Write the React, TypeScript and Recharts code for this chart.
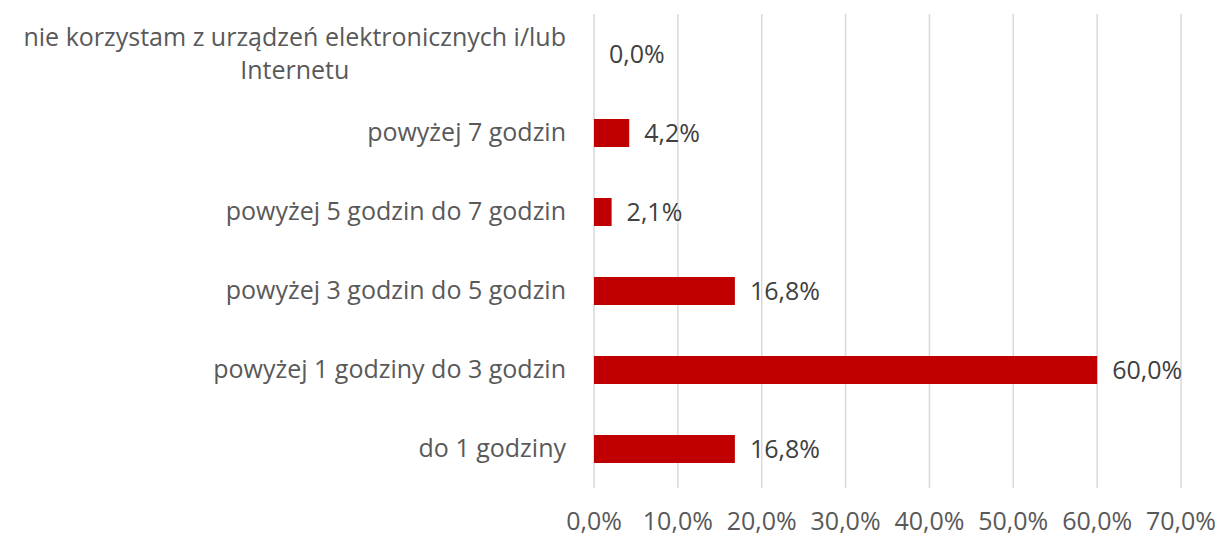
import React from 'react';
import { BarChart, Bar, XAxis, YAxis, CartesianGrid, LabelList } from 'recharts';

const categories = [
    'nie korzystam z urządzeń elektronicznych i/lub\nInternetu',
    'powyżej 7 godzin',
    'powyżej 5 godzin do 7 godzin',
    'powyżej 3 godzin do 5 godzin',
    'powyżej 1 godziny do 3 godzin',
    'do 1 godziny',
];
const shares = [0.0, 4.2, 2.1, 16.8, 60.0, 16.8];
const xTicks = [0, 10, 20, 30, 40, 50, 60, 70];

const data = categories.map((name, i) => ({ name, value: shares[i] }));

const FONT = '"Open Sans", sans-serif';
const FONT_SIZE = 25;
const fmt = (v: number) => `${v.toFixed(1).replace('.', ',')}%`;

let ctx: CanvasRenderingContext2D | null = null;
const measure = (s: string) => {
    if (!ctx) ctx = document.createElement('canvas').getContext('2d');
    if (!ctx) return s.length * 12;
    ctx.font = `${FONT_SIZE}px ${FONT}`;
    return ctx.measureText(s).width;
};

// category labels: right aligned block, multiple lines centred within it
const CategoryTick = (props: any) => {
    const { x, y, payload } = props;
    const lines: string[] = String(payload.value).split('\n');
    const lineH = 33;
    if (lines.length === 1) {
        return (
            <text x={x} y={y} dy="0.35em" textAnchor="end" fill="#595959" fontSize={FONT_SIZE} fontFamily={FONT}>
                {lines[0]}
            </text>
        );
    }
    const w = Math.max(...lines.map(measure));
    const cx = x - w / 2;
    const y0 = y - ((lines.length - 1) * lineH) / 2;
    return (
        <text textAnchor="middle" fill="#595959" fontSize={FONT_SIZE} fontFamily={FONT}>
            {lines.map((l, i) => (
                <tspan key={i} x={cx} y={y0 + i * lineH} dy="0.35em">{l}</tspan>
            ))}
        </text>
    );
};

// value labels drawn right of each bar (also for the empty bar)
const ValueLabel = (props: any) => {
    const { x, y, width, height, value } = props;
    return (
        <text
            x={Number(x) + Number(width) + 15}
            y={Number(y) + Number(height) / 2}
            dy="0.35em"
            fill="#404040"
            fontSize={FONT_SIZE}
            fontFamily={FONT}
        >
            {fmt(Number(value))}
        </text>
    );
};

export default function App() {
    return (
        <div style={{ position: 'absolute', left: 0, top: 0, background: '#fff' }}>
            <BarChart
                width={1220}
                height={538}
                data={data}
                layout="vertical"
                margin={{ top: 14, right: 39, left: 0, bottom: 0 }}
                barSize={28}
            >
                <CartesianGrid horizontal={false} stroke="#d9d9d9" strokeWidth={1.5} />
                <XAxis
                    type="number"
                    domain={[0, 70]}
                    ticks={xTicks}
                    tickFormatter={fmt}
                    axisLine={false}
                    tickLine={false}
                    tickSize={0}
                    tickMargin={24}
                    height={50}
                    interval={0}
                    tick={{ fill: '#595959', fontSize: FONT_SIZE, fontFamily: FONT }}
                />
                <YAxis
                    type="category"
                    dataKey="name"
                    width={594}
                    axisLine={false}
                    tickLine={false}
                    tickSize={0}
                    tickMargin={28}
                    interval={0}
                    tick={<CategoryTick />}
                />
                <Bar dataKey="value" fill="#C00000" minPointSize={0.01} isAnimationActive={false}>
                    <LabelList dataKey="value" content={<ValueLabel />} />
                </Bar>
            </BarChart>
        </div>
    );
}
